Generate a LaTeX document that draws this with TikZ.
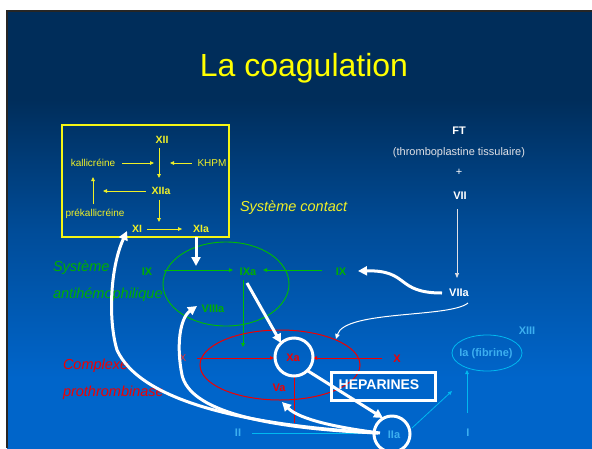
\documentclass[tikz,border=0pt]{standalone}
\usepackage{fontspec}
\setmainfont{Liberation Sans}
\usetikzlibrary{arrows.meta,calc}
\definecolor{navytop}{RGB}{0,45,90}
\definecolor{navymid}{RGB}{0,76,152}
\definecolor{navybot}{RGB}{0,101,202}
\pgfdeclareverticalshading{slidebg}{100bp}{color(0bp)=(navybot); color(25bp)=(navybot); color(33bp)=(navybot); color(50bp)=(navymid); color(65bp)=(navytop); color(75bp)=(navytop); color(100bp)=(navytop)}
\definecolor{ttlyellow}{RGB}{255,255,0}
\definecolor{boxc}{RGB}{245,245,20}
\definecolor{ytext}{RGB}{240,240,40}
\definecolor{gtext}{RGB}{0,175,0}
\definecolor{gline}{RGB}{0,190,0}
\definecolor{rtext}{RGB}{240,0,0}
\definecolor{ltblue}{RGB}{60,175,240}
\definecolor{cyline}{RGB}{0,185,240}
\definecolor{ftgray}{RGB}{225,225,230}
\tikzset{
  every node/.style={inner sep=0pt, outer sep=0pt},
  bl/.style={font=\fontsize{11}{13}\selectfont\bfseries},
  rg/.style={font=\fontsize{10}{12}\selectfont},
  ybl/.style={bl, text=ytext, font=\fontsize{10.5}{12}\selectfont\bfseries},
  yrg/.style={rg, text=ytext},
  it/.style={font=\fontsize{14.5}{17}\selectfont\itshape, anchor=west},
  ya/.style={ytext, line width=0.8pt, -{Triangle[length=4pt,width=3.5pt]}},
  ga/.style={gline, line width=0.8pt, -{Triangle[length=4pt,width=3.5pt]}},
  ra/.style={rtext, line width=1pt, -{Triangle[length=4pt,width=3.5pt]}},
  ca/.style={cyline, line width=0.8pt, -{Triangle[length=4pt,width=3.5pt]}},
  wa/.style={white, line width=3pt, -{Triangle[length=9pt,width=9pt]}},
  wthin/.style={white, line width=1pt, -{Triangle[length=5pt,width=4.5pt]}},
}
\begin{document}
\begin{tikzpicture}[x=1pt,y=-1pt]
\useasboundingbox (0,0) rectangle (592,448);
\fill[white] (0,0) rectangle (592,448);
\shade[shading=slidebg] (7,11) rectangle (592,448);
\draw[black!85, line width=1.5pt] (7,448) -- (7,11) -- (592,11);

% title
\node[text=ttlyellow, font=\fontsize{32}{36}\selectfont] (title) at (304,68) {La coagulation};

% contact system box
\node[draw=boxc, line width=1.3pt, minimum width=167pt, minimum height=112pt] (cbox) at (145.5,181) {};
\node[ybl] (XII) at (162,140) {XII};
\node[yrg] (kal) at (93,163) {kallicréine};
\node[yrg] (khpm) at (212,163) {KHPM};
\node[ybl] (XIIa) at (161,191) {XIIa};
\node[yrg] (prek) at (95,214) {prékallicréine};
\node[ybl] (XI) at (137,229) {XI};
\node[ybl] (XIa) at (201,229) {XIa};
\coordinate (c1) at (159,148); \coordinate (c2) at (159,178);
\coordinate (c3) at (154,163); \coordinate (c4) at (170,163);
\coordinate (c5) at (159,200); \coordinate (c6) at (159,222);
\coordinate (c7) at (93,177);
\draw[ya] (c1) -- (c2);
\draw[ya] (kal.east) ++(7,0) -- (c3);
\draw[ya] ($(khpm.west)+(-6,0)$) -- (c4);
\draw[ya] ($(XIIa.west)+(-6,0)$) -- (103,191);
\draw[ya] ($(prek.north)+(-2,-5)$) -- (c7);
\draw[ya] (c5) -- (c6);
\draw[ya] ($(XI.east)+(5,0)$) -- ($(XIa.west)+(-11,0)$);

\node[it, text=ytext] (sc) at (240,208) {Système contact};

% FT group
\node[bl, text=white] (FT) at (459,131) {FT};
\node[font=\fontsize{11}{13}\selectfont, text=ftgray] (thr) at (459,153) {(thromboplastine tissulaire)};
\node[font=\fontsize{11}{13}\selectfont, text=white] (plus) at (459,172) {+};
\node[bl, text=white] (VII) at (460,196) {VII};
\node[bl, text=white] (VIIa) at (459,293) {VIIa};
\draw[ftgray, line width=0.7pt, -{Triangle[length=5pt,width=4pt]}] (457,209) -- (457,278);

% antihemophilic system
\node[it, text=gtext] (sys1) at (53,268) {Système};
\node[it, text=gtext] (sys2) at (53,295) {antihémophilique};
\draw[gline, line width=0.9pt] (226,284) ellipse [x radius=63, y radius=42];
\node[bl, text=gtext] (IX1) at (147,272) {IX};
\node[bl, text=gtext] (IXa) at (248,272) {IXa};
\node[bl, text=gtext] (IX2) at (341,272) {IX};
\node[bl, text=gtext] (VIIIa) at (213,309) {VIIIa};
\draw[ga] (164,270) -- (233,270);
\draw[ga] (322,270) -- (263,270);
\draw[ga] (243,280) -- (243,347);

% prothrombinase complex
\node[it, text=rtext] (cp1) at (63,366) {Complexe};
\node[it, text=rtext] (cp2) at (63,393) {prothrombinase};
\draw[rtext, line width=1pt] (280,365) ellipse [x radius=80, y radius=35];
\node[font=\fontsize{10}{12}\selectfont, text=rtext!80!white] (X1) at (183,358) {X};
\node[bl, text=rtext] (X2) at (397,359) {X};
\node[bl, text=rtext] (Va) at (279,388) {Va};
\draw[ra] (197,358) -- (274,358);
\draw[ra] (382,358) -- (313,358);
\draw[rtext, line width=1pt] (294,377) -- (294,423);
\node[circle, draw=white, line width=3pt, minimum size=38pt] (Xac) at (294,357) {};
\node[bl, text=rtext] (Xa) at (293,358) {Xa};

% heparines
\node[draw=white, line width=3pt, minimum width=104pt, minimum height=28pt] (hepbox) at (383,386) {};
\node[text=white, font=\fontsize{14}{16}\selectfont\bfseries] (hep) at (379,385) {HEPARINES};

% fibrin
\node[bl, text=ltblue] (II) at (238,433) {II};
\draw[cyline, line width=0.9pt] (252,433) -- (375,433);
\node[bl, text=ltblue] (I) at (468,433) {I};
\draw[ca] (467,413) -- (467,370);
\draw[cyline, line width=0.8pt] (487,353) ellipse [x radius=35, y radius=18];
\node[bl, text=ltblue] (Ia) at (486,354) {Ia (fibrine)};
\node[bl, text=ltblue] (XIII) at (527,331) {XIII};
\draw[ca] (412,428) -- (452,391);

% white arrows
\draw[wa] (196,237) -- (196,266);
\draw[wa] (247,283) -- (281,343);
\draw[wa] (308,371) -- (383,418);
\draw[wa] (442,293) .. controls (395,293) and (410,270) .. (358,271);
\draw[wthin] (468,303) .. controls (450,318) and (345,310) .. (336,339);
\draw[wa] (378,433) .. controls (240,425) and (140,400) .. (117,350) .. controls (108,320) and (110,268) .. (127,231);
\draw[wa] (378,433) .. controls (260,428) and (190,410) .. (182,375) .. controls (176,345) and (180,318) .. (197,306);
\draw[wa] (380,433) .. controls (340,428) and (300,420) .. (282,402);

\node[circle, draw=white, line width=3pt, minimum size=36pt] (IIac) at (392,434) {};
\node[bl, text=ltblue] (IIa) at (394,435) {IIa};
\end{tikzpicture}
\end{document}
